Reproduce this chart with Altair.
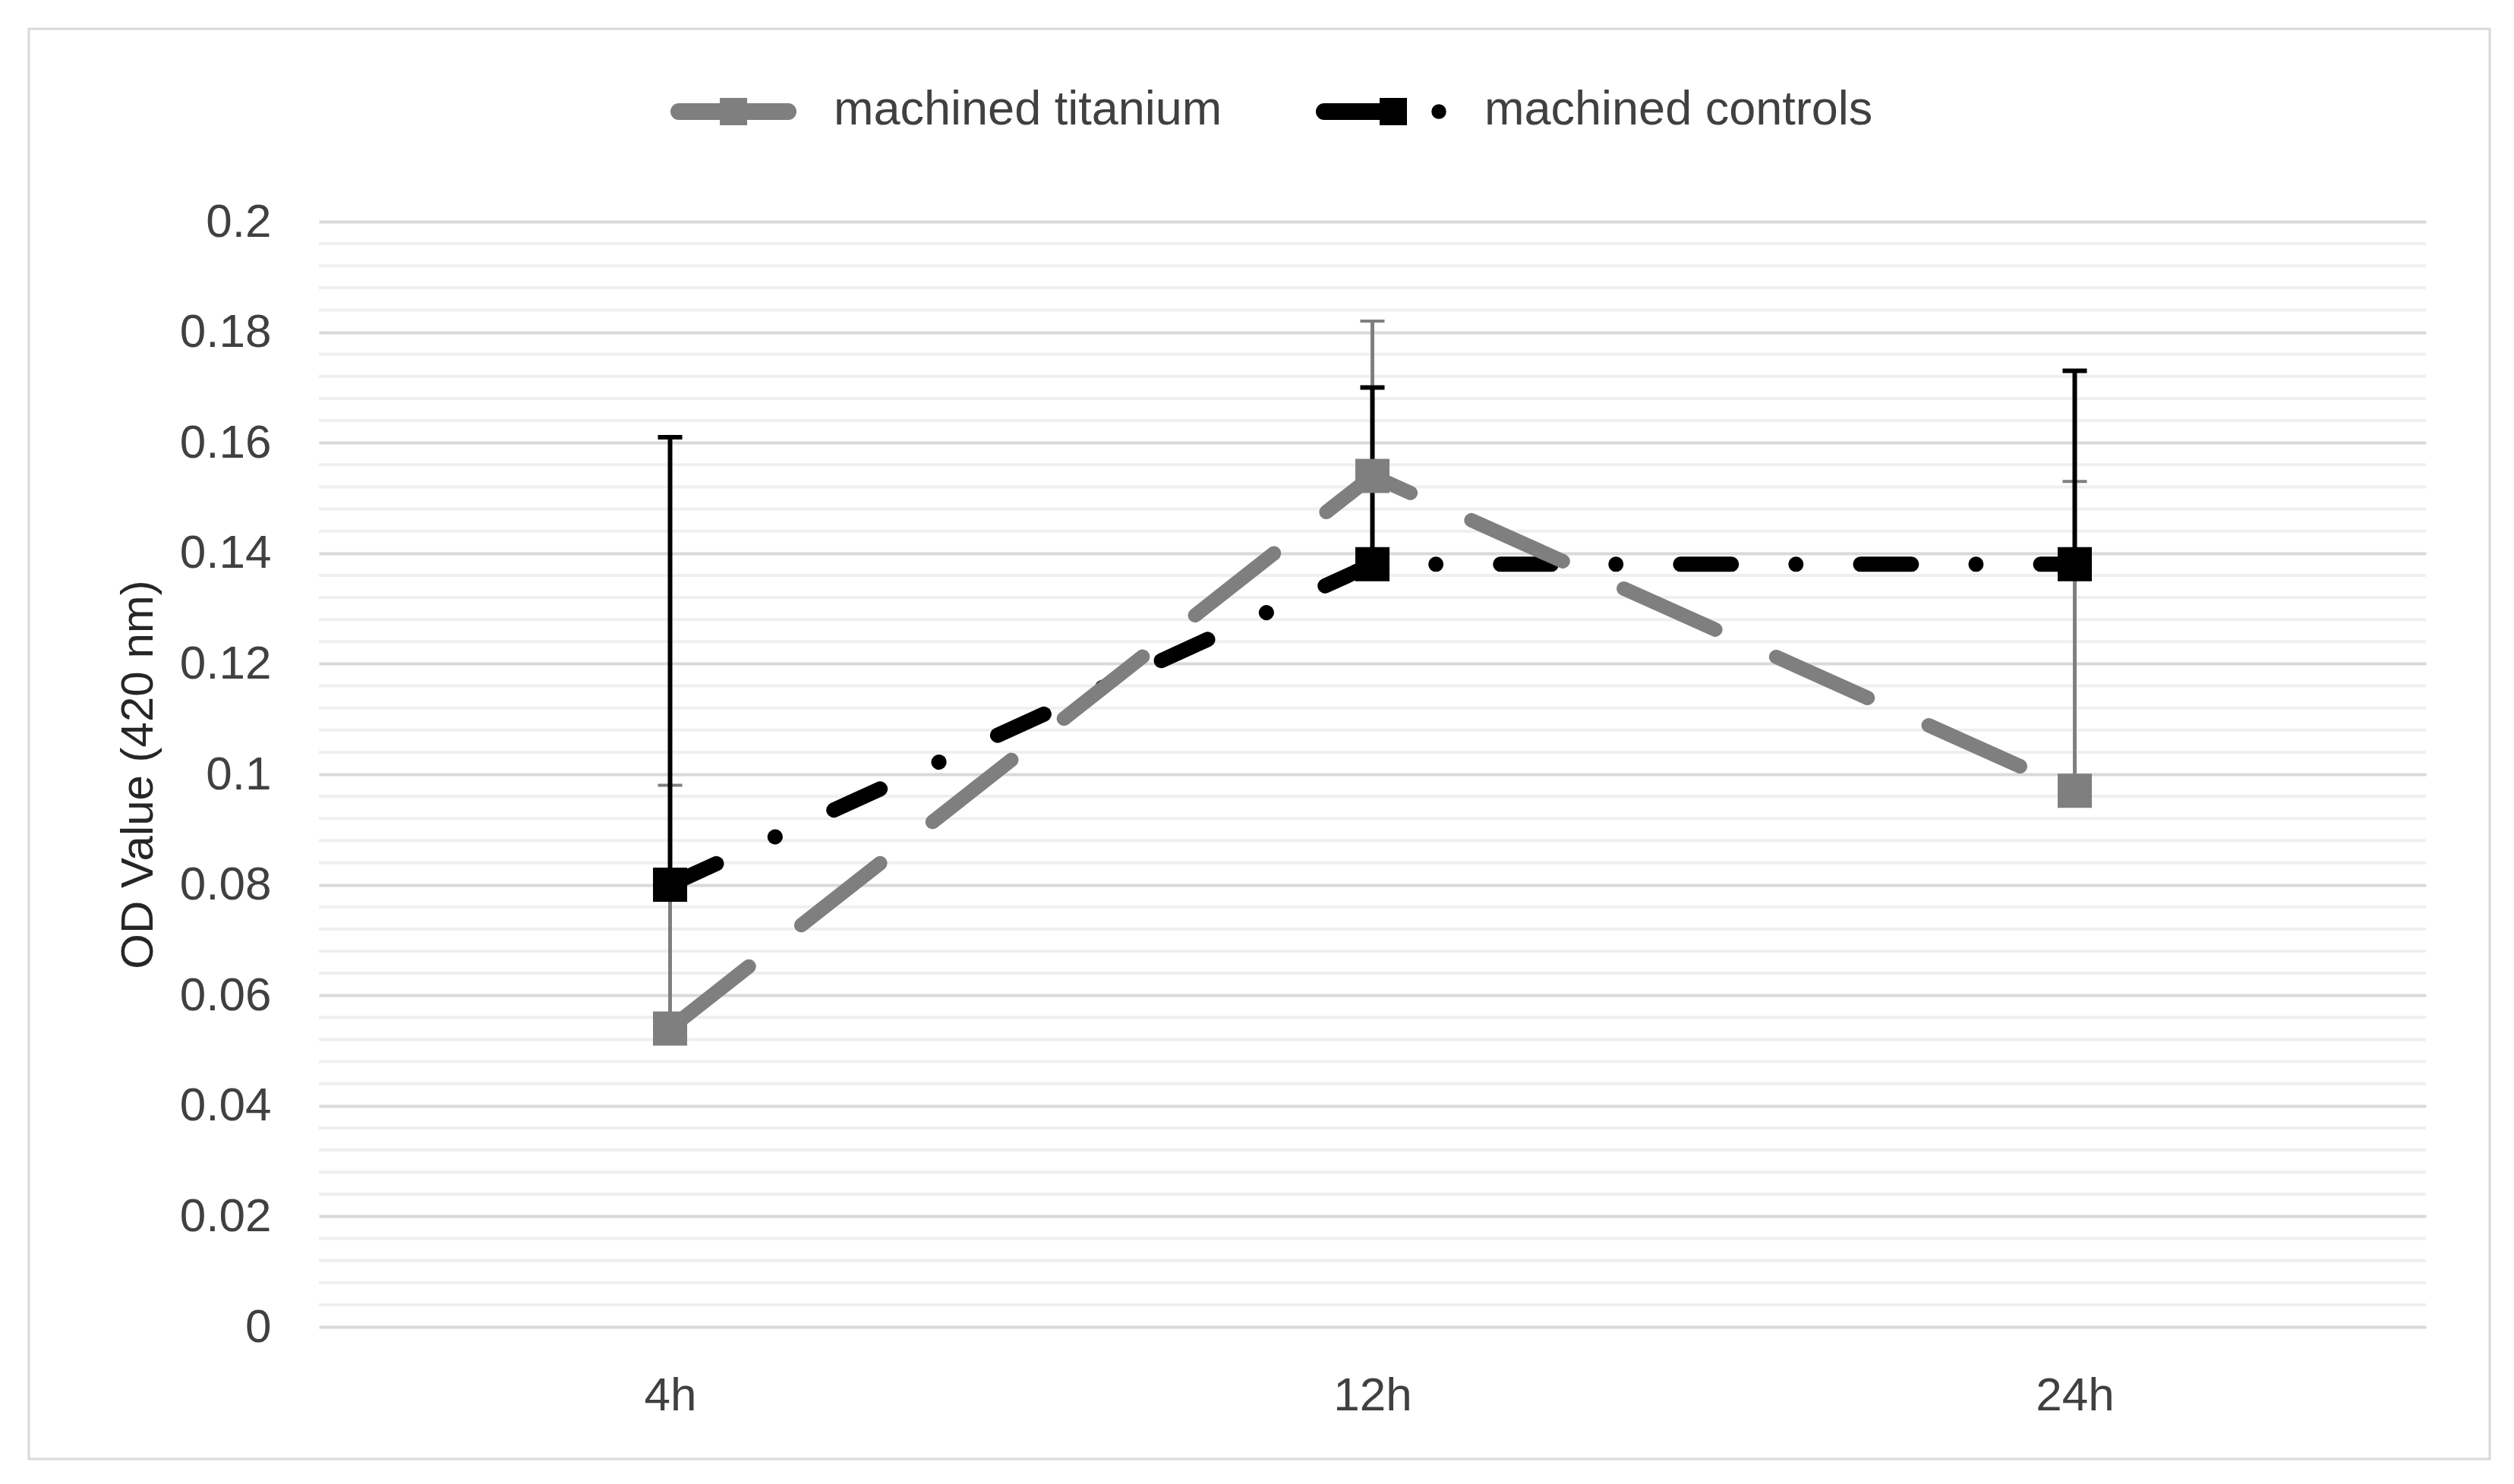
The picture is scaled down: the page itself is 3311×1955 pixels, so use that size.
import altair as alt
import pandas as pd

# ---------------- data ----------------
times = ["4h", "12h", "24h"]
series_names = ["machined titanium", "machined controls"]
titanium = [0.054, 0.154, 0.097]
titanium_err = [0.044, 0.028, 0.056]
controls = [0.080, 0.138, 0.138]
controls_err = [0.081, 0.032, 0.035]
y_ticks = [0, 0.02, 0.04, 0.06, 0.08, 0.1, 0.12, 0.14, 0.16, 0.18, 0.2]
y_minor = [0.004, 0.008, 0.012, 0.016, 0.024, 0.028, 0.032, 0.036,
           0.044, 0.048, 0.052, 0.056, 0.064, 0.068, 0.072, 0.076,
           0.084, 0.088, 0.092, 0.096, 0.104, 0.108, 0.112, 0.116,
           0.124, 0.128, 0.132, 0.136, 0.144, 0.148, 0.152, 0.156,
           0.164, 0.168, 0.172, 0.176, 0.184, 0.188, 0.192, 0.196]
series_colors = ["#7f7f7f", "#000000"]

rows = []
for name, vals, errs in [(series_names[0], titanium, titanium_err),
                         (series_names[1], controls, controls_err)]:
    for t, v, e in zip(times, vals, errs):
        rows.append({"series": name, "time": t, "value": v, "upper": round(v + e, 4)})
df = pd.DataFrame(rows)
minor_df = pd.DataFrame({"v": y_minor})

W, H = 2775, 1456
FONT = "Liberation Sans"
TXT = "#404040"
GRAY, BLACK = series_colors

color_scale = alt.Scale(domain=series_names, range=series_colors)
y_scale = alt.Scale(domain=[0, 0.2], nice=False, zero=True)
y_axis = alt.Axis(title="OD Value (420 nm)", values=y_ticks, format=".2~f",
                  grid=True, gridColor="#d9d9d9", gridWidth=4,
                  domain=False, ticks=False, tickSize=0,
                  labelPadding=63, labelFontSize=62, labelFont=FONT, labelColor=TXT,
                  titleFont=FONT, titleFontSize=60, titleFontWeight="normal",
                  titleColor="#262626", titlePadding=23)
x_enc = alt.X("time:N", sort=times, scale=alt.Scale(type="point", padding=0.5),
              axis=alt.Axis(title=None, labelAngle=0, domain=False, ticks=False,
                            tickSize=0, grid=False, labelPadding=60,
                            labelFontSize=62, labelFont=FONT, labelColor=TXT))

def Y(field):
    return alt.Y(field, scale=y_scale, axis=y_axis)

def C():
    return alt.Color("series:N", scale=color_scale, legend=None)

base = alt.Chart(df)
tit = base.transform_filter(alt.datum.series == series_names[0])
con = base.transform_filter(alt.datum.series == series_names[1])

minor = alt.Chart(minor_df).mark_rule(color="#efefef", strokeWidth=4).encode(
    y=Y("v:Q"))

one = pd.DataFrame({"k": [0]})
frame = alt.Chart(one).mark_rect(
    fill="white", fillOpacity=0, stroke="#d9d9d9", strokeWidth=3).encode(
    x=alt.value(-382), x2=alt.value(2859), y=alt.value(-254), y2=alt.value(1630))

line_con = con.mark_line(strokeWidth=20, strokeCap="round", strokeJoin="round",
                         strokeDash=[67, 85, 0.1, 85]).encode(
    x=x_enc, y=Y("value:Q"), color=C())
line_tit = tit.mark_line(strokeWidth=19, strokeCap="round", strokeJoin="round",
                         strokeDash=[132, 88]).encode(
    x=x_enc, y=Y("value:Q"), color=C())

err_tit = tit.mark_rule(strokeWidth=5).encode(
    x=x_enc, y=Y("value:Q"), y2="upper:Q", color=C())
cap_tit = tit.mark_tick(thickness=4, size=32, opacity=1).encode(
    x=x_enc, y=Y("upper:Q"), color=C())
err_con = con.mark_rule(strokeWidth=6).encode(
    x=x_enc, y=Y("value:Q"), y2="upper:Q", color=C())
cap_con = con.mark_tick(thickness=6, size=32, opacity=1).encode(
    x=x_enc, y=Y("upper:Q"), color=C())

pt_con = con.mark_point(shape="square", filled=True, size=2025, opacity=1).encode(
    x=x_enc, y=Y("value:Q"), color=C())
pt_tit = tit.mark_point(shape="square", filled=True, size=2025, opacity=1).encode(
    x=x_enc, y=Y("value:Q"), color=C())

# ---------------- legend (drawn as guide marks above the plot) ----------------
LY = -145
lg_tit_bar = alt.Chart(one).mark_rule(color=GRAY, strokeWidth=22, strokeCap="round").encode(
    x=alt.value(474), x2=alt.value(618), y=alt.value(LY))
lg_tit_sq = alt.Chart(one).mark_point(shape="square", filled=True, size=1296,
                                      opacity=1, color=GRAY).encode(
    x=alt.value(546), y=alt.value(LY))
lg_tit_txt = alt.Chart(pd.DataFrame({"label": [series_names[0]]})).mark_text(
    align="left", baseline="middle", font=FONT, fontSize=63, color=TXT).encode(
    text="label:N", x=alt.value(678), y=alt.value(LY - 2))

lg_con_bar = alt.Chart(one).mark_rule(color=BLACK, strokeWidth=22, strokeCap="round").encode(
    x=alt.value(1324), x2=alt.value(1405), y=alt.value(LY))
lg_con_sq = alt.Chart(one).mark_point(shape="square", filled=True, size=1296,
                                      opacity=1, color=BLACK).encode(
    x=alt.value(1415), y=alt.value(LY))
lg_con_dot = alt.Chart(one).mark_point(shape="circle", filled=True, size=380,
                                       opacity=1, color=BLACK).encode(
    x=alt.value(1475), y=alt.value(LY))
lg_con_txt = alt.Chart(pd.DataFrame({"label": [series_names[1]]})).mark_text(
    align="left", baseline="middle", font=FONT, fontSize=63, color=TXT).encode(
    text="label:N", x=alt.value(1535), y=alt.value(LY - 2))

chart = alt.layer(
    minor, frame, line_con, line_tit, err_tit, cap_tit, err_con, cap_con,
    pt_con, pt_tit,
    lg_tit_bar, lg_tit_sq, lg_tit_txt, lg_con_bar, lg_con_sq, lg_con_dot, lg_con_txt
).properties(
    width=W, height=H,
    autosize=alt.AutoSizeParams(type="none"),
    padding={"left": 412, "top": 284, "right": 108, "bottom": 199},
    background="white",
).configure_view(stroke=None)

chart.save("out.html", embed_options={"renderer": "svg", "actions": False})
